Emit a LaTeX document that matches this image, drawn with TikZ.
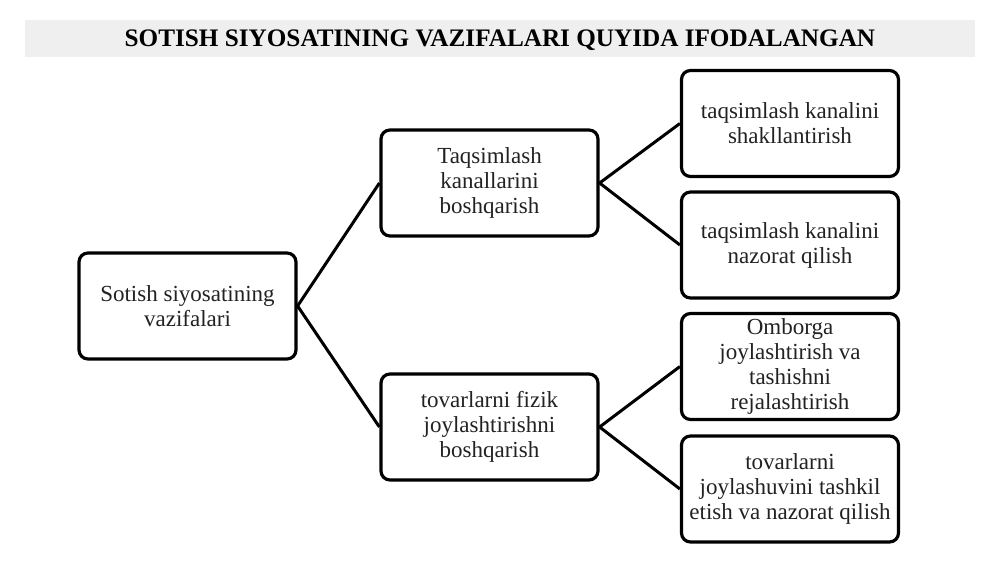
\documentclass[tikz,border=0pt]{standalone}
\usepackage{fontspec}
\setmainfont{Liberation Serif}
\definecolor{titlebg}{HTML}{EFEFEF}
\definecolor{ink}{HTML}{222222}
\begin{document}
\begin{tikzpicture}[x=1pt,y=-1pt,
    box/.style={draw=black,line width=3.2pt,rounded corners=9pt,align=center,
      minimum width=217pt,minimum height=106pt,text=ink,inner sep=2pt,
      font=\fontsize{23}{25}\selectfont},
    link/.style={line width=3pt}]
  \useasboundingbox (0,0) rectangle (1000,562);
  \fill[titlebg] (25,20) rectangle (975,57);
  \node[font=\bfseries\fontsize{25.2}{28}\selectfont] (title) at (500,40)
    {SOTISH SIYOSATINING VAZIFALARI QUYIDA IFODALANGAN};
  \node[box] (root) at (187.5,306) {Sotish siyosatining\\vazifalari};
  \node[box] (kanal) at (489.5,183) {Taqsimlash\\kanallarini\\boshqarish};
  \node[box] (fizik) at (489.5,427) {tovarlarni fizik\\joylashtirishni\\boshqarish};
  \node[box] (shakl) at (790,123.5) {taqsimlash kanalini\\shakllantirish};
  \node[box] (nazorat) at (790,245) {taqsimlash kanalini\\nazorat qilish};
  \node[box] (ombor) at (790,366.5) {Omborga\\joylashtirish va\\tashishni\\rejalashtirish};
  \node[box] (joy) at (790,489) {tovarlarni\\joylashuvini tashkil\\etish va nazorat qilish};
  \foreach \a/\b in {root/kanal,root/fizik,kanal/shakl,kanal/nazorat,fizik/ombor,fizik/joy} {
    \draw[link] (\a.east) -- (\b.west);
  }
\end{tikzpicture}
\end{document}
